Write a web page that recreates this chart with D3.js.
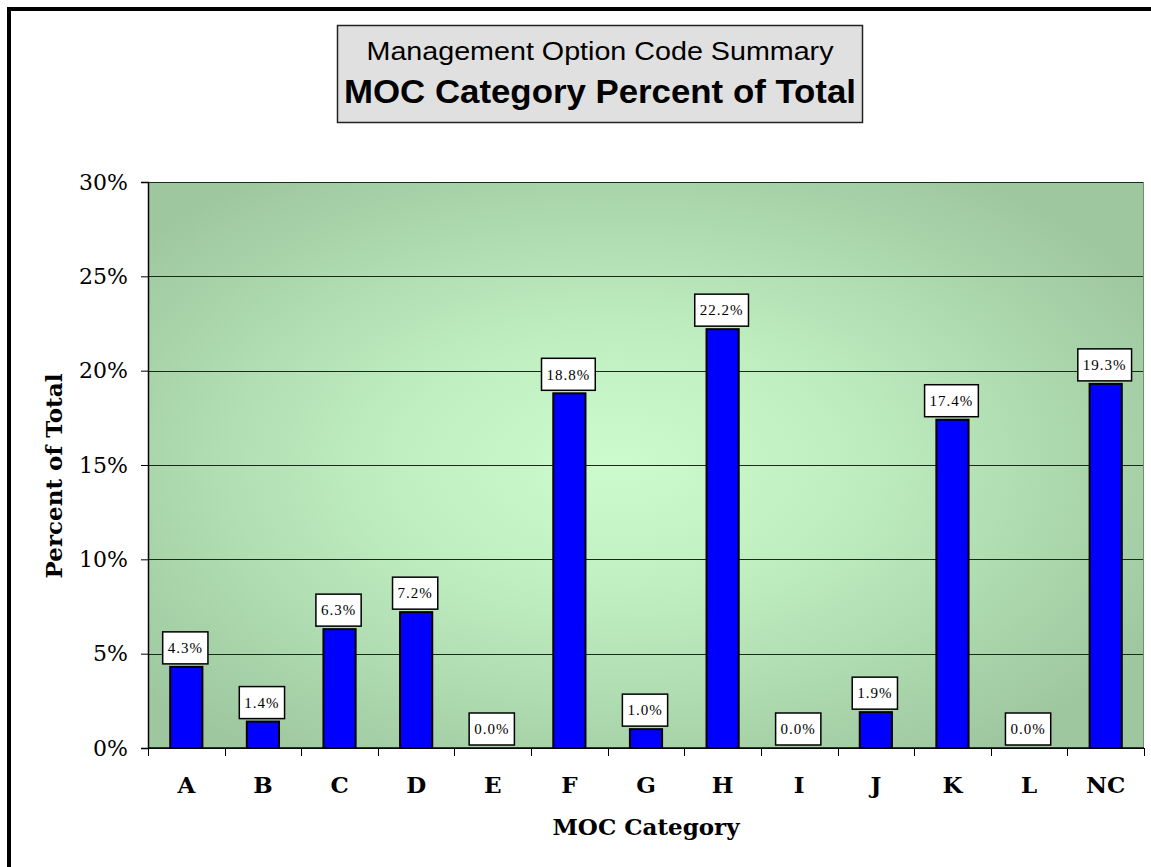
<!DOCTYPE html>
<html>
<head>
<meta charset="utf-8">
<script src="https://cdn.jsdelivr.net/npm/d3@7"></script>
<style>
  body { margin: 0; background: #fff; }
  .tick-y { font-family: "DejaVu Serif", serif; font-size: 22px; }
  .tick-x { font-family: "DejaVu Serif", serif; font-size: 23px; font-weight: bold; }
  .axis-title { font-family: "DejaVu Serif", serif; font-size: 23px; font-weight: bold; }
  .bar-label { font-family: "Liberation Serif", serif; font-size: 15px; letter-spacing: 1px; }
  .title1 { font-family: "Liberation Sans", sans-serif; font-size: 25px; }
  .title2 { font-family: "Liberation Sans", sans-serif; font-size: 34px; font-weight: bold; }
</style>
</head>
<body>
<div id="chart"></div>
<script>
// MOC category summary data
var categories = ["A", "B", "C", "D", "E", "F", "G", "H", "I", "J", "K", "L", "NC"];
var percents = [4.3, 1.4, 6.3, 7.2, 0.0, 18.8, 1.0, 22.2, 0.0, 1.9, 17.4, 0.0, 19.3];
var yTicks = [0, 5, 10, 15, 20, 25, 30];

var width = 1151, height = 867;
var margin = {top: 182, right: 7, bottom: 119, left: 148};
var plotW = width - margin.left - margin.right;
var plotH = height - margin.top - margin.bottom;

var svg = d3.select("#chart")
    .append("svg")
    .attr("width", width)
    .attr("height", height);

// background gradient for plot area
var defs = svg.append("defs");
var grad = defs.append("radialGradient")
    .attr("id", "bg")
    .attr("cx", "47%").attr("cy", "50%")
    .attr("r", "62%");
grad.append("stop").attr("offset", "0%").attr("stop-color", "#ccfcce");
grad.append("stop").attr("offset", "35%").attr("stop-color", "#c0f0c2");
grad.append("stop").attr("offset", "100%").attr("stop-color", "#9ec79f");

// outer frame (only top/left show inside the picture)
svg.append("path")
    .attr("d", "M9," + height + " V9 H" + width)
    .attr("fill", "none")
    .attr("stroke", "#000")
    .attr("stroke-width", 4);

var x = d3.scaleBand()
    .domain(categories)
    .range([0, plotW])
    .paddingInner(0.58)
    .paddingOuter(0.29);

var y = d3.scaleLinear()
    .domain([0, 30])
    .range([plotH, 0]);

var g = svg.append("g")
    .attr("transform", "translate(" + margin.left + "," + margin.top + ")");

g.append("rect")
    .attr("width", plotW)
    .attr("height", plotH)
    .attr("fill", "url(#bg)");

// gridlines
g.selectAll(".grid")
    .data(yTicks)
    .enter()
    .append("line")
    .attr("class", "grid")
    .attr("x1", 0)
    .attr("x2", plotW)
    .attr("y1", function(d) { return Math.round(y(d)) + 0.5; })
    .attr("y2", function(d) { return Math.round(y(d)) + 0.5; })
    .attr("stroke", "#1a2a1a")
    .attr("stroke-width", 1.2);

// right border of plot
g.append("line")
    .attr("x1", plotW - 0.5).attr("x2", plotW - 0.5)
    .attr("y1", 0).attr("y2", plotH)
    .attr("stroke", "#6f8f6f")
    .attr("stroke-width", 1);

// y axis
var yAxis = g.append("g")
    .call(d3.axisLeft(y).tickValues(yTicks).tickSize(7).tickPadding(13)
        .tickFormat(function(d) { return d + "%"; }));
yAxis.select(".domain").attr("stroke", "#000").attr("stroke-width", 1.5);
yAxis.selectAll(".tick line").attr("stroke", "#000");
yAxis.selectAll("text").attr("class", "tick-y").attr("fill", "#000").attr("font-size", null).attr("font-family", null);

// x axis with ticks between categories
var xAxis = g.append("g")
    .attr("transform", "translate(0," + plotH + ")");
xAxis.append("line")
    .attr("x1", 0).attr("x2", plotW)
    .attr("stroke", "#000").attr("stroke-width", 1.5);
var bounds = categories.map(function(c) { return x(c) - x.step() * x.paddingInner() / 2; });
bounds.push(plotW);
xAxis.selectAll(".xt")
    .data(bounds)
    .enter()
    .append("line")
    .attr("x1", function(d) { return Math.round(d) + 0.5; })
    .attr("x2", function(d) { return Math.round(d) + 0.5; })
    .attr("y1", 0).attr("y2", 8)
    .attr("stroke", "#000");
xAxis.selectAll(".tick-x")
    .data(categories)
    .enter()
    .append("text")
    .attr("class", "tick-x")
    .attr("x", function(d) { return x(d) + x.bandwidth() / 2; })
    .attr("y", 45)
    .attr("text-anchor", "middle")
    .text(function(d) { return d; });

// bars
var data = categories.map(function(c, i) { return {cat: c, val: percents[i]}; });

g.selectAll(".bar")
    .data(data.filter(function(d) { return d.val > 0; }))
    .enter()
    .append("rect")
    .attr("class", "bar")
    .attr("x", function(d) { return x(d.cat); })
    .attr("y", function(d) { return y(d.val); })
    .attr("width", x.bandwidth())
    .attr("height", function(d) { return plotH - y(d.val); })
    .attr("fill", "#0000ff")
    .attr("stroke", "#000")
    .attr("stroke-width", 2);

// value labels in white boxes
var lab = g.selectAll(".lab")
    .data(data)
    .enter()
    .append("g")
    .attr("class", "lab")
    .attr("transform", function(d) {
        return "translate(" + (x(d.cat) + x.bandwidth() / 2 - 1) + "," + (y(d.val) - 19) + ")";
    });
lab.append("text")
    .attr("class", "bar-label")
    .attr("text-anchor", "middle")
    .attr("dy", "0.35em")
    .text(function(d) { return d.val.toFixed(1) + "%"; });
lab.each(function() {
    var t = d3.select(this).select("text");
    var bb = t.node().getBBox();
    d3.select(this).insert("rect", "text")
        .attr("x", -bb.width / 2 - 5)
        .attr("y", -16)
        .attr("width", bb.width + 10)
        .attr("height", 32)
        .attr("fill", "#fff")
        .attr("stroke", "#000")
        .attr("stroke-width", 1.5);
});

// axis titles
svg.append("text")
    .attr("class", "axis-title")
    .attr("transform", "translate(62,476) rotate(-90)")
    .attr("text-anchor", "middle")
    .text("Percent of Total");

svg.append("text")
    .attr("class", "axis-title")
    .attr("x", 646)
    .attr("y", 835)
    .attr("text-anchor", "middle")
    .text("MOC Category");

// title box
var tb = svg.append("g");
tb.append("rect")
    .attr("x", 337.5).attr("y", 25.5)
    .attr("width", 525).attr("height", 97)
    .attr("fill", "#e0e0e0")
    .attr("stroke", "#222")
    .attr("stroke-width", 1.5);
tb.append("text")
    .attr("class", "title1")
    .attr("x", 600).attr("y", 60)
    .attr("text-anchor", "middle")
    .attr("textLength", 467)
    .attr("lengthAdjust", "spacingAndGlyphs")
    .text("Management Option Code Summary");
tb.append("text")
    .attr("class", "title2")
    .attr("x", 600).attr("y", 103)
    .attr("text-anchor", "middle")
    .attr("textLength", 512)
    .attr("lengthAdjust", "spacingAndGlyphs")
    .text("MOC Category Percent of Total");
</script>
</body>
</html>
